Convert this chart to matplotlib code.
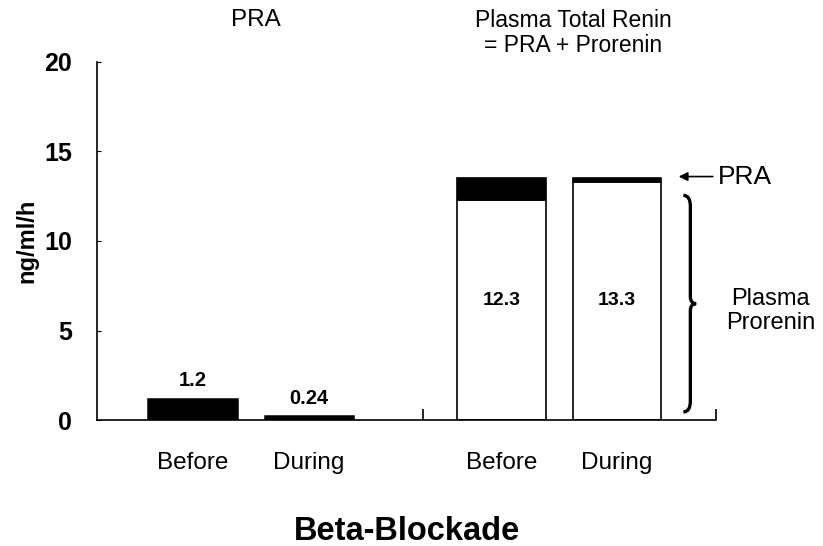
import numpy as np
import matplotlib.pyplot as plt
from matplotlib.path import Path
from matplotlib.patches import PathPatch
import matplotlib.transforms as mtransforms

plt.rcParams['font.family'] = ['Liberation Sans', 'DejaVu Sans']

# data
periods = ["Before", "During"]
pra = [1.2, 0.24]
prorenin = [12.3, 13.3]
pra_labels = ["1.2", "0.24"]
prorenin_labels = ["12.3", "13.3"]
yticks = [0, 5, 10, 15, 20]

# layout (x positions in units of the bar spacing)
left_pos = np.array([0.0, 1.0])
right_pos = np.array([2.65, 3.64])
bar_w = 0.76
sep = 1.98
xmin, xmax = -0.82, 4.49

fig = plt.figure(figsize=(8.23, 5.46), dpi=100)
ax = fig.add_axes([97 / 823, 126 / 546, 619 / 823, 358 / 546])

# PRA bars
ax.bar(left_pos, pra, width=bar_w, color="black", edgecolor="black", linewidth=1.8)
for x, v, lab in zip(left_pos, pra, pra_labels):
    ax.text(x, v + 0.45, lab, ha="center", va="bottom", fontsize=14.5, fontweight="bold")

# total renin = prorenin + PRA
ax.bar(right_pos, prorenin, width=bar_w, color="white", edgecolor="black", linewidth=1.2)
ax.bar(right_pos, pra, bottom=prorenin, width=bar_w, color="black",
       edgecolor="black", linewidth=1.2)
for x, lab in zip(right_pos, prorenin_labels):
    ax.text(x, max(prorenin) / 2, lab, ha="center", va="center",
            fontsize=14, fontweight="bold")

ax.set_xlim(xmin, xmax)
ax.set_ylim(0, 20)
ax.spines["top"].set_visible(False)
ax.spines["right"].set_visible(False)
ax.spines["left"].set_linewidth(1.2)
ax.spines["bottom"].set_linewidth(1.2)

ax.set_yticks(yticks)
ax.set_yticklabels([str(t) for t in yticks], fontsize=18, fontweight="bold")
ax.tick_params(axis="y", direction="in", length=3, pad=18)

# group separator ticks, category labels as minor ticks
ax.set_xticks([sep, xmax])
ax.set_xticklabels([])
ax.tick_params(axis="x", which="major", direction="in", length=8, width=1.2)
ax.set_xticks(np.concatenate([left_pos, right_pos]), minor=True)
ax.set_xticklabels(periods + periods, minor=True, fontsize=17.5)
ax.tick_params(axis="x", which="minor", length=0, pad=23)

ax.set_ylabel("ng/ml/h", fontsize=17, fontweight="bold", labelpad=4)
ax.set_xlabel("Beta-Blockade", fontsize=23.5, fontweight="bold", labelpad=30)

# group titles above the plot
trans = mtransforms.blended_transform_factory(ax.transData, ax.transAxes)
ax.text(left_pos.mean() + 0.04, (420 - 20) / 358, "PRA", transform=trans,
        ha="center", va="center", fontsize=17.5)
ax.text(right_pos.mean() + 0.12, (420 - 33) / 358, "Plasma Total Renin\n= PRA + Prorenin",
        transform=trans, ha="center", va="center", fontsize=16.5, linespacing=1.15)

# arrow pointing to PRA segment
ax.annotate("PRA", xy=(4.17, 13.6), xytext=(4.51, 13.6),
            ha="left", va="center", fontsize=19,
            arrowprops=dict(arrowstyle="-|>", color="black", lw=1.2,
                            mutation_scale=13, shrinkA=2, shrinkB=0),
            annotation_clip=False)

# brace marking the prorenin part
xb = 4.27
y0, y1 = 0.45, 12.55
ym = (y0 + y1) / 2
verts = [
    (xb - 0.06, y1), (xb, y1), (xb, y1 - 0.6),
    (xb, ym + 0.4),
    (xb, ym), (xb + 0.05, ym),
    (xb, ym), (xb, ym - 0.4),
    (xb, y0 + 0.6),
    (xb, y0), (xb - 0.06, y0),
]
codes = [Path.MOVETO, Path.CURVE3, Path.CURVE3, Path.LINETO, Path.CURVE3, Path.CURVE3,
         Path.CURVE3, Path.CURVE3, Path.LINETO, Path.CURVE3, Path.CURVE3]
brace = PathPatch(Path(verts, codes), fill=False, lw=2.4, edgecolor="black", clip_on=False)
ax.add_patch(brace)

ax.text(4.96, ym - 0.4, "Plasma\nProrenin", ha="center", va="center",
        fontsize=17, linespacing=1.15)

fig.savefig("out.png", dpi=100)
